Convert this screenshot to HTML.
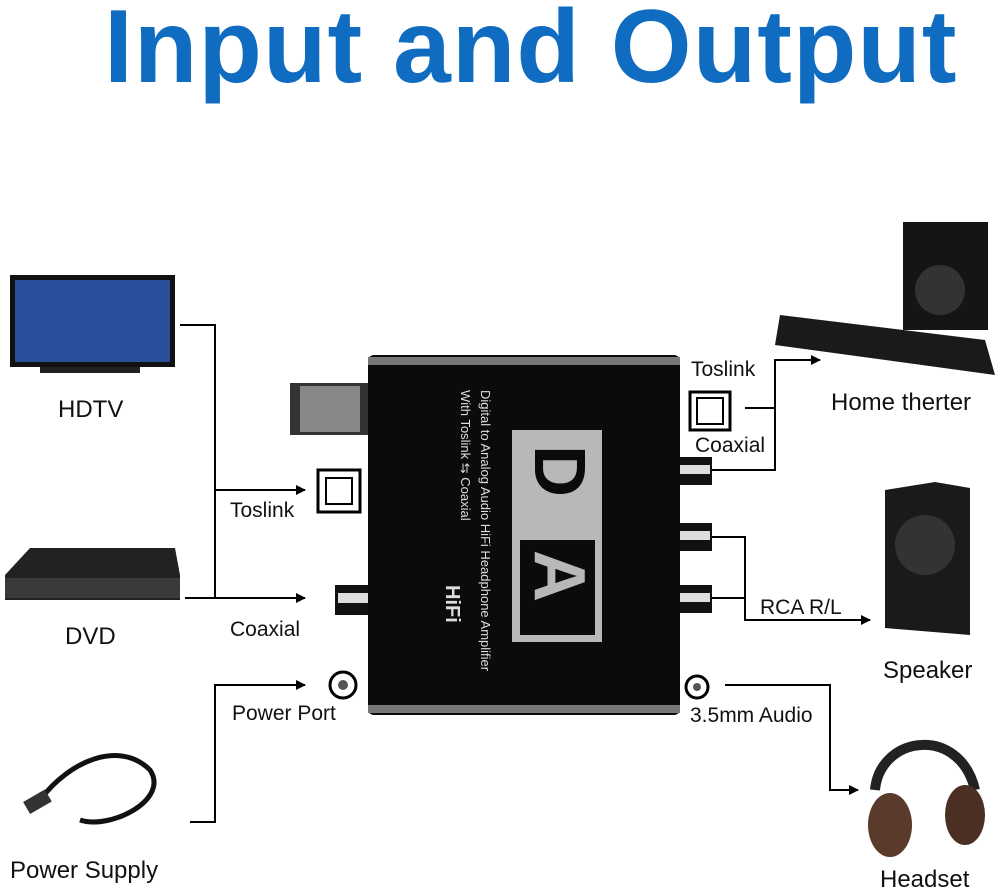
<!DOCTYPE html>
<html><head><style>
body{margin:0;width:1000px;height:894px;background:#fff;position:relative;overflow:hidden;font-family:"Liberation Sans",sans-serif}
.t{position:absolute;font-size:21px;color:#111;white-space:nowrap}
.b{position:absolute;font-size:24px;color:#111;white-space:nowrap}
</style></head><body>
<div style="position:absolute;left:104px;top:-12px;font-size:104px;font-weight:bold;color:#0f6cc0;white-space:nowrap;letter-spacing:1px">Input and Output</div>

<svg width="1000" height="894" style="position:absolute;left:0;top:0">
<defs><marker id="a" markerWidth="10" markerHeight="10" refX="9" refY="5" orient="auto" markerUnits="userSpaceOnUse"><path d="M0,0 L10,5 L0,10 z" fill="#000"/></marker></defs>
<g stroke="#000" stroke-width="2" fill="none">
<polyline points="180,325 215,325 215,598"/>
<line x1="215" y1="490" x2="305" y2="490" marker-end="url(#a)"/>
<line x1="185" y1="598" x2="305" y2="598" marker-end="url(#a)"/>
<polyline points="190,822 215,822 215,685 305,685" marker-end="url(#a)"/>
<polyline points="745,408 775,408 775,360 820,360" marker-end="url(#a)"/>
<polyline points="712,470 775,470 775,408"/>
<polyline points="712,537 745,537 745,620 870,620" marker-end="url(#a)"/>
<line x1="712" y1="598" x2="745" y2="598"/>
<polyline points="725,685 830,685 830,790 858,790" marker-end="url(#a)"/>
</g>
<rect x="10" y="275" width="165" height="92" fill="#111"/>
<rect x="15" y="280" width="155" height="82" fill="#2a4f9a"/>
<rect x="40" y="367" width="100" height="6" fill="#222"/>
<path d="M5,575 L30,548 L175,548 L180,575 L180,600 L5,600 z" fill="#222"/>
<rect x="5" y="578" width="175" height="20" fill="#3a3a3a"/>
<path d="M40,800 C70,760 120,740 150,770 C170,800 110,830 80,820" stroke="#111" stroke-width="5" fill="none"/>
<rect x="25" y="795" width="25" height="14" fill="#333" transform="rotate(-30 37 802)"/>
<rect x="368" y="355" width="312" height="360" rx="6" fill="#0b0b0b"/>
<rect x="368" y="357" width="312" height="8" fill="#777"/>
<rect x="368" y="705" width="312" height="8" fill="#777"/>
<rect x="512" y="430" width="90" height="212" fill="#b8b8b8"/>
<rect x="520" y="540" width="75" height="95" fill="#0b0b0b"/>
<text x="0" y="0" transform="translate(535,445) rotate(90)" font-size="72" font-weight="bold" fill="#0b0b0b" font-family="Liberation Sans">D</text>
<text x="0" y="0" transform="translate(535,550) rotate(90)" font-size="72" font-weight="bold" fill="#b8b8b8" font-family="Liberation Sans">A</text>
<text transform="translate(481,390) rotate(90)" font-size="13" fill="#ddd" font-family="Liberation Sans">Digital to Analog Audio HiFi Headphone Amplifier</text>
<text transform="translate(461,390) rotate(90)" font-size="13" fill="#ddd" font-family="Liberation Sans">With Toslink ⇆ Coaxial</text>
<text transform="translate(446,585) rotate(90)" font-size="20" font-weight="bold" fill="#ddd" font-family="Liberation Sans">HiFi</text>
<rect x="290" y="383" width="78" height="52" fill="#333"/>
<rect x="300" y="386" width="60" height="46" fill="#888"/>
<rect x="318" y="470" width="42" height="42" fill="#fff" stroke="#000" stroke-width="3"/>
<rect x="326" y="478" width="26" height="26" fill="none" stroke="#000" stroke-width="2"/>
<rect x="335" y="585" width="33" height="30" fill="#111"/>
<rect x="338" y="593" width="30" height="10" fill="#ddd"/>
<circle cx="343" cy="685" r="13" fill="#fff" stroke="#000" stroke-width="3"/><circle cx="343" cy="685" r="5" fill="#555"/>
<rect x="690" y="392" width="40" height="38" fill="#fff" stroke="#000" stroke-width="3"/>
<rect x="697" y="398" width="26" height="26" fill="none" stroke="#000" stroke-width="2"/>
<rect x="680" y="457" width="32" height="28" fill="#111"/><rect x="680" y="465" width="30" height="9" fill="#ddd"/>
<rect x="680" y="523" width="32" height="28" fill="#111"/><rect x="680" y="531" width="30" height="9" fill="#ddd"/>
<rect x="680" y="585" width="32" height="28" fill="#111"/><rect x="680" y="593" width="30" height="9" fill="#ddd"/>
<circle cx="697" cy="687" r="11" fill="#fff" stroke="#000" stroke-width="3"/><circle cx="697" cy="687" r="4" fill="#555"/>
<rect x="903" y="222" width="85" height="108" fill="#151515"/>
<circle cx="940" cy="290" r="25" fill="#333"/>
<path d="M780,315 L985,340 L995,375 L775,345 z" fill="#1a1a1a"/>
<path d="M885,490 L935,482 L970,488 L970,635 L885,628 z" fill="#1a1a1a"/>
<circle cx="925" cy="545" r="30" fill="#333"/>
<path d="M875,790 C880,735 960,725 975,790" stroke="#222" stroke-width="10" fill="none"/>
<ellipse cx="890" cy="825" rx="22" ry="32" fill="#5a3a2a"/>
<ellipse cx="965" cy="815" rx="20" ry="30" fill="#4a2f22"/>
</svg>

<div class="b" style="left:58px;top:396px">HDTV</div>
<div class="b" style="left:65px;top:623px">DVD</div>
<div class="b" style="left:10px;top:857px">Power Supply</div>
<div class="t" style="left:230px;top:499px">Toslink</div>
<div class="t" style="left:230px;top:618px">Coaxial</div>
<div class="t" style="left:232px;top:702px">Power Port</div>
<div class="t" style="left:691px;top:358px">Toslink</div>
<div class="t" style="left:695px;top:434px">Coaxial</div>
<div class="t" style="left:760px;top:596px">RCA R/L</div>
<div class="t" style="left:690px;top:704px">3.5mm Audio</div>
<div class="b" style="left:831px;top:389px">Home therter</div>
<div class="b" style="left:883px;top:657px">Speaker</div>
<div class="b" style="left:880px;top:866px">Headset</div>
</body></html>
